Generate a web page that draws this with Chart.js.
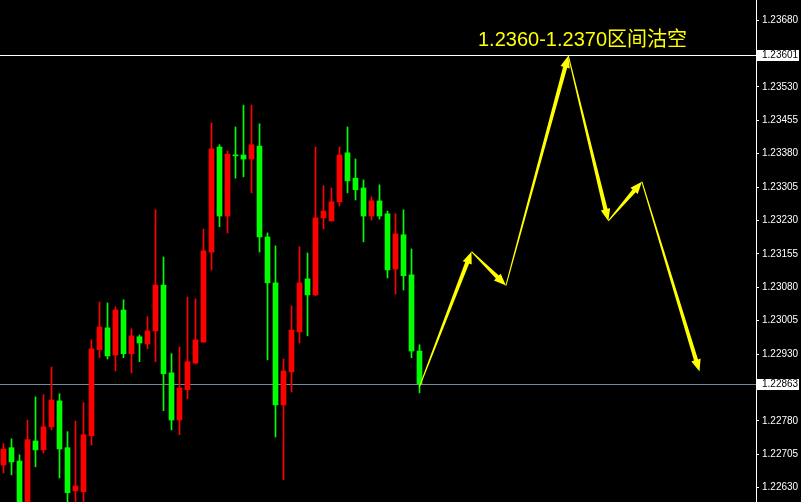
<!DOCTYPE html>
<html>
<head>
<meta charset="utf-8">
<script src="https://cdn.jsdelivr.net/npm/chart.js@4/dist/chart.umd.min.js"></script>
<style>
  html, body { margin: 0; padding: 0; background: #000; }
  canvas { display: block; }
</style>
</head>
<body>
<canvas id="fxChart" width="801" height="502"></canvas>
<script>
// candles, one slot each (slot 0 = leftmost bar)
const candleOpen = [
  1.22681, 1.22720, 1.22690, 1.22585, 1.22735, 1.22715, 1.22767, 1.22825, 1.22720, 1.22623,
  1.22621, 1.22747, 1.22940, 1.22989, 1.22928, 1.23029, 1.22931, 1.22969, 1.22953, 1.22982,
  1.23085, 1.22888, 1.22782, 1.22850, 1.22910, 1.22957, 1.23159, 1.23395, 1.23240, 1.23377,
  1.23377, 1.23368, 1.23397, 1.23193, 1.23090, 1.22816, 1.22890, 1.22980, 1.23099, 1.23063,
  1.23236, 1.23229, 1.23272, 1.23382, 1.23325, 1.23303, 1.23240, 1.23274, 1.23245, 1.23121,
  1.23198, 1.23108, 1.22937
];
const candleHigh = [
  1.22729, 1.22740, 1.22704, 1.22782, 1.22834, 1.22839, 1.22901, 1.22841, 1.22756, 1.22780,
  1.22821, 1.22962, 1.23047, 1.23045, 1.23036, 1.23052, 1.22987, 1.22973, 1.23014, 1.23254,
  1.23148, 1.22931, 1.22946, 1.23058, 1.23054, 1.23211, 1.23449, 1.23400, 1.23386, 1.23440,
  1.23489, 1.23489, 1.23447, 1.23202, 1.23173, 1.22919, 1.23038, 1.23171, 1.23157, 1.23395,
  1.23308, 1.23303, 1.23395, 1.23440, 1.23368, 1.23321, 1.23283, 1.23310, 1.23251, 1.23245,
  1.23254, 1.23166, 1.22951
];
const candleLow = [
  1.22663, 1.22659, 1.22580, 1.22575, 1.22677, 1.22708, 1.22760, 1.22652, 1.22585, 1.22585,
  1.22585, 1.22726, 1.22922, 1.22919, 1.22892, 1.22922, 1.22888, 1.22913, 1.22942, 1.22913,
  1.22803, 1.22760, 1.22749, 1.22830, 1.22908, 1.22957, 1.23119, 1.23216, 1.23202, 1.23325,
  1.23328, 1.23292, 1.23159, 1.22917, 1.22744, 1.22648, 1.22845, 1.22955, 1.22971, 1.23061,
  1.23211, 1.23229, 1.23263, 1.23292, 1.23276, 1.23182, 1.23231, 1.23233, 1.23101, 1.23065,
  1.23074, 1.22922, 1.22843
];
const candleClose = [
  1.22717, 1.22688, 1.22590, 1.22738, 1.22715, 1.22767, 1.22827, 1.22717, 1.22619, 1.22634,
  1.22749, 1.22942, 1.22991, 1.22926, 1.23029, 1.22931, 1.22971, 1.22955, 1.22982, 1.23085,
  1.22886, 1.22782, 1.22854, 1.22913, 1.22962, 1.23162, 1.23391, 1.23240, 1.23379, 1.23375,
  1.23368, 1.23400, 1.23193, 1.23090, 1.22816, 1.22892, 1.22984, 1.23090, 1.23063, 1.23236,
  1.23251, 1.23272, 1.23377, 1.23319, 1.23299, 1.23240, 1.23274, 1.23240, 1.23119, 1.23200,
  1.23106, 1.22937, 1.22863
];

// projected path (slot, price)
const arrowSlot = [52, 58.5, 62.8, 70.6, 75.6, 79.8, 87.0];
const arrowPrice = [1.22857, 1.23160, 1.23084, 1.23600, 1.23229, 1.23317, 1.22891];

const tickValues = [1.22630, 1.22705, 1.22780, 1.22930, 1.23005, 1.23080, 1.23155,
  1.23230, 1.23305, 1.23380, 1.23455, 1.23530, 1.23680];
const levelValues = [1.23601, 1.22863];
const levelColors = ["#ffffff", "#778899"];
const noteText = "1.2360-1.2370区间沽空";

const yMin = 1.22598, yMax = 1.23725;
const slotMin = -0.4375, slotMax = 94.0625;

const upColor = "#ff0000";
const downColor = "#00ff00";
const candleColors = candleOpen.map((o, i) => candleClose[i] >= o ? upColor : downColor);

const wickData = candleOpen.map((o, i) => ({ x: i, y: [candleLow[i], candleHigh[i]] }));
const bodyData = candleOpen.map((o, i) => ({
  x: i,
  y: [Math.min(o, candleClose[i]), Math.max(o, candleClose[i])]
}));

function drawArrow(ctx, ax, ay, bx, by) {
  const dx = bx - ax, dy = by - ay;
  const len = Math.hypot(dx, dy);
  const ux = dx / len, uy = dy / len;
  const nx = -uy, ny = ux;
  const head = 12, hw = 4.8, w0 = 0.5, w1 = 2.1;
  const sx = bx - ux * head, sy = by - uy * head;
  ctx.beginPath();
  ctx.moveTo(ax + nx * w0, ay + ny * w0);
  ctx.lineTo(sx + nx * w1, sy + ny * w1);
  ctx.lineTo(sx + nx * hw, sy + ny * hw);
  ctx.lineTo(bx, by);
  ctx.lineTo(sx - nx * hw, sy - ny * hw);
  ctx.lineTo(sx - nx * w1, sy - ny * w1);
  ctx.lineTo(ax - nx * w0, ay - ny * w0);
  ctx.closePath();
  ctx.fill();
}

const overlayPlugin = {
  id: "overlay",
  beforeDraw(chart) {
    const ctx = chart.ctx;
    ctx.save();
    ctx.fillStyle = "#000000";
    ctx.fillRect(0, 0, chart.width, chart.height);
    ctx.restore();
  },
  beforeDatasetsDraw(chart) {
    const { ctx, chartArea, scales: { y } } = chart;
    ctx.save();
    ctx.lineWidth = 1;
    levelValues.forEach((v, i) => {
      const py = Math.round(y.getPixelForValue(v)) + 0.5;
      ctx.strokeStyle = levelColors[i];
      ctx.beginPath();
      ctx.moveTo(chartArea.left, py);
      ctx.lineTo(chartArea.right, py);
      ctx.stroke();
    });
    ctx.restore();
  },
  afterDatasetsDraw(chart) {
    const { ctx, scales: { x, y } } = chart;
    ctx.save();
    ctx.fillStyle = "#ffff00";
    for (let i = 0; i < arrowSlot.length - 1; i++) {
      drawArrow(ctx,
        x.getPixelForValue(arrowSlot[i]), y.getPixelForValue(arrowPrice[i]),
        x.getPixelForValue(arrowSlot[i + 1]), y.getPixelForValue(arrowPrice[i + 1]));
    }
    ctx.font = "20px 'Liberation Sans', 'Noto Sans CJK SC', sans-serif";
    ctx.textBaseline = "alphabetic";
    ctx.textAlign = "left";
    ctx.fillText(noteText, 478, 46);
    ctx.restore();
  },
  afterDraw(chart) {
    const { ctx, chartArea, scales: { y } } = chart;
    ctx.save();
    ctx.font = "10px 'Liberation Sans', sans-serif";
    ctx.textBaseline = "middle";
    ctx.textAlign = "left";
    levelValues.forEach((v) => {
      const py = Math.round(y.getPixelForValue(v));
      ctx.fillStyle = "#ffffff";
      ctx.fillRect(chartArea.right + 1, py - 5, 42, 11);
      ctx.fillStyle = "#000000";
      ctx.fillText(v.toFixed(5), chartArea.right + 6, py + 0.5);
    });
    ctx.restore();
  }
};

const ctx = document.getElementById("fxChart").getContext("2d");
new Chart(ctx, {
  type: "bar",
  data: {
    datasets: [
      {
        label: "wick",
        data: wickData,
        backgroundColor: candleColors,
        borderWidth: 0,
        barThickness: 1,
        grouped: false
      },
      {
        label: "body",
        data: bodyData,
        backgroundColor: candleColors,
        borderWidth: 0,
        barThickness: 5,
        minBarLength: 1,
        grouped: false
      }
    ]
  },
  options: {
    responsive: false,
    animation: false,
    devicePixelRatio: 1,
    layout: { padding: 0 },
    plugins: {
      legend: { display: false },
      tooltip: { enabled: false },
      title: { display: false }
    },
    scales: {
      x: {
        type: "linear",
        display: false,
        offset: false,
        min: slotMin,
        max: slotMax
      },
      y: {
        type: "linear",
        position: "right",
        min: yMin,
        max: yMax,
        afterBuildTicks: (scale) => {
          scale.ticks = tickValues.map((v) => ({ value: v }));
        },
        afterFit: (scale) => {
          scale.width = 45;
          scale.paddingTop = 0;
          scale.paddingBottom = 0;
        },
        grid: {
          drawOnChartArea: false,
          drawTicks: true,
          tickLength: 3,
          color: "#ffffff"
        },
        border: { display: true, color: "#ffffff", width: 1 },
        ticks: {
          color: "#ffffff",
          autoSkip: false,
          padding: 3,
          crossAlign: "near",
          font: { family: "'Liberation Sans', sans-serif", size: 10 },
          callback: (v) => Number(v).toFixed(5)
        }
      }
    }
  },
  plugins: [overlayPlugin]
});
</script>
</body>
</html>
